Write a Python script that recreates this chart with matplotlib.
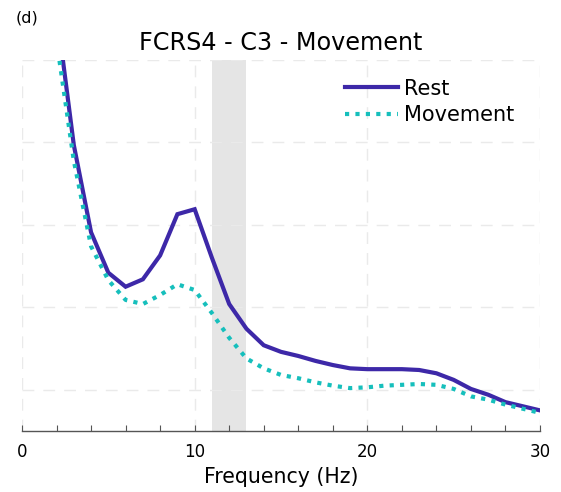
import numpy as np
import matplotlib
matplotlib.use("Agg")
import matplotlib.pyplot as plt

plt.rcParams['font.family'] = ['DejaVu Sans']

# Power spectrum (arbitrary units) at 1 Hz steps
freq = list(range(2, 31))
rest = [5.10, 3.47, 2.41, 1.92, 1.75, 1.84, 2.13, 2.63, 2.69, 2.10, 1.54, 1.24,
        1.04, 0.96, 0.91, 0.85, 0.80, 0.76, 0.75, 0.75, 0.75, 0.74, 0.70, 0.62,
        0.51, 0.44, 0.35, 0.30, 0.25]
movement = [4.74, 3.28, 2.24, 1.83, 1.59, 1.54, 1.65, 1.78, 1.71, 1.43, 1.13, 0.88,
            0.76, 0.68, 0.64, 0.59, 0.55, 0.52, 0.53, 0.55, 0.56, 0.57, 0.56, 0.51,
            0.42, 0.38, 0.32, 0.27, 0.22]
band = (11, 13)
xticks = [0, 10, 20, 30]
yticks = [0.5, 1.5, 2.5, 3.5, 4.5]

fig = plt.figure(figsize=(5.61, 4.92), dpi=100)
ax = fig.add_axes([0.0392, 0.124, 0.9234, 0.754])

ax.axvspan(band[0], band[1], color='#E5E5E5', lw=0, zorder=1)

ax.plot(freq, rest, color='#3D28A8', lw=3.0, solid_joinstyle='miter',
        label='Rest', zorder=3)
ax.plot(freq, movement, color='#16BFBC', lw=3.0, dashes=(1, 1.5),
        dash_capstyle='butt', label='Movement', zorder=3)

ax.set_xlim(0, 30)
ax.set_ylim(0, 4.5)
ax.set_xticks(xticks)
ax.set_xticks(np.arange(0, 31, 2), minor=True)
ax.set_yticks(yticks)
ax.tick_params(axis='y', left=False, labelleft=False)
ax.tick_params(axis='x', which='both', direction='in', length=4, width=0.8,
               color='#555555', labelsize=12, pad=9)
ax.grid(True, which='major', color='#EAEAEA', ls=(0, (8.5, 6.5)), lw=1.0, zorder=0)

for s in ['left', 'right', 'top']:
    ax.spines[s].set_visible(False)
ax.spines['bottom'].set_color('#555555')
ax.spines['bottom'].set_linewidth(1.0)

ax.set_title('FCRS4 - C3 - Movement', fontsize=17.2, pad=7)
ax.set_xlabel('Frequency (Hz)', fontsize=14.8, labelpad=4)

ax.legend(loc='upper left', bbox_to_anchor=(0.6236, 0.950), frameon=False,
          fontsize=15, handlelength=2.55, handletextpad=0.3, labelspacing=0.31,
          borderpad=0, borderaxespad=0)

fig.text(0.027, 0.963, '(d)', fontsize=11.5, va='center', ha='left')

fig.savefig('out.png', dpi=100)
